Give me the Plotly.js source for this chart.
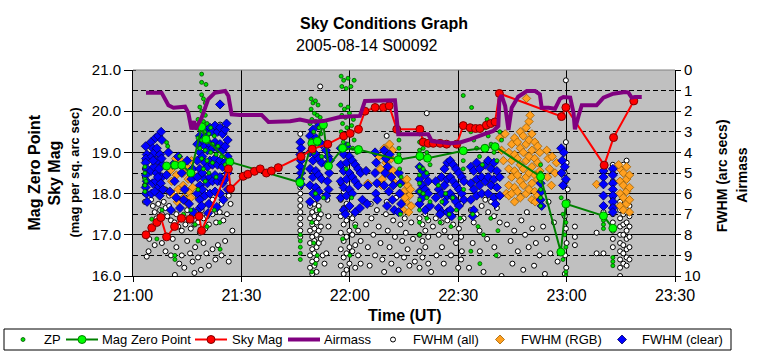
<!DOCTYPE html>
<html>
<head>
<meta charset="utf-8">
<script src="https://cdn.plot.ly/plotly-3.0.1.min.js"></script>
<style>html,body{margin:0;padding:0;background:#fff;}#chart{width:763px;height:358px;}</style>
</head>
<body>
<div id="chart"></div>
<script>
// ---- axis tick data ----
const timeTicks = [0, 30, 60, 90, 120, 150];           // minutes after 21:00 UT
const timeLabels = ['21:00', '21:30', '22:00', '22:30', '23:00', '23:30'];
const magTicks = [16, 17, 18, 19, 20, 21];
const magLabels = ['16.0', '17.0', '18.0', '19.0', '20.0', '21.0'];
const rightTicks = [0, 1, 2, 3, 4, 5, 6, 7, 8, 9, 10];
const seriesNames = ['ZP', 'Mag Zero Point', 'Sky Mag', 'Airmass', 'FWHM (all)', 'FWHM (RGB)', 'FWHM (clear)'];

// ---- series: [minutes after 21:00, value] ----
const skyMag = [[3.6,17.0],[5.2,17.17],[6.6,17.3],[7.7,17.42],[9.3,16.95],[11.5,17.2],[13.4,17.4],[15.8,17.38],[18.3,17.45],[19.0,17.1],
  [26.4,18.6],[27.0,18.12],[30.5,18.42],[31.8,18.47],[33.6,18.54],[35.2,18.6],[36.9,18.5],[38.3,18.55],[40.2,18.63],[46.5,18.9],
  [49.6,19.08],[53.9,19.2],[58.3,19.4],[60.1,19.46],[62.4,19.56],[64.2,20.0],[67.0,20.09],[69.3,20.09],[70.9,20.13],[73.0,19.56],
  [79.4,19.56],[80.3,19.25],[81.7,19.22],[83.1,19.22],[85.0,19.22],[86.8,19.2],[89.6,19.2],[91.4,19.65],[93.3,19.6],[94.8,19.58],
  [96.0,19.58],[97.8,19.66],[99.0,19.7],[100.2,19.74],[101.4,20.43],[118.6,19.87],[119.8,20.09],[130.4,18.69],[133.0,19.36],[138.6,20.25]];

const magZeroPoint = [[9.3,18.67],[11.6,18.69],[13.5,18.69],[16.0,18.5],[19.0,19.62],[20.2,19.32],[26.8,18.77],[46.2,18.27],
  [49.5,19.22],[51.0,19.27],[52.7,19.67],[54.1,18.67],[58.0,19.1],[62.4,19.07],[73.4,18.82],[79.4,18.91],[81.5,18.86],
  [91.4,19.04],[97.4,19.1],[100.2,19.14],[112.8,18.41],[118.4,16.58],[119.8,17.75],[130.2,17.46],[132.8,17.16]];

const airmass = [[3.6,1.10],[7.9,1.10],[9.8,1.71],[11.2,1.83],[14.4,1.78],[15.3,2.07],[16.2,2.88],[16.9,2.48],[17.3,2.88],[19.0,2.31],
  [20.8,1.42],[22.7,1.10],[25.5,1.02],[26.4,1.26],[27.3,2.15],[29.6,2.18],[35.6,2.18],[37.5,2.52],[43.5,2.49],[46.2,2.40],
  [49.0,2.51],[52.7,2.48],[57.3,2.28],[60.1,2.25],[62.8,2.23],[64.2,1.50],[72.5,1.47],[73.4,3.12],[81.7,3.12],[82.7,3.45],
  [87.7,3.56],[90.5,3.52],[93.3,3.37],[97.0,3.12],[99.7,2.96],[101.1,2.72],[101.4,1.42],[102.0,1.23],[103.0,1.75],[103.9,2.91],
  [104.8,1.83],[106.6,1.30],[109.0,1.02],[111.3,1.02],[112.6,1.18],[113.1,1.83],[115.0,1.83],[116.8,1.88],[118.2,1.39],[119.1,1.31],
  [121.0,1.34],[121.9,2.07],[122.3,2.88],[123.3,2.23],[124.2,1.71],[128.3,1.71],[130.2,1.34],[132.9,1.15],[136.2,1.07],[137.1,1.10],
  [138.0,1.34],[138.9,1.31],[140.8,1.31]];

const zpPoints = [[3.3,18.05],[3.3,18.2],[3.3,18.35],[3.3,18.5],[3.3,18.65],[3.6,18.3],
  [5.2,17.38],[6.6,16.9],[9.3,19.24],[9.6,19.15],[11.6,16.4],[11.6,16.5],[12.9,18.91],[16.0,17.6],[8.0,17.6],[14.0,17.5],[18.0,16.85],[20.5,17.2],[24.1,16.65],[17.2,17.25],
  [19.0,20.9],[19.0,20.7],[20.2,20.65],[19.0,20.4],[19.5,20.3],[20.0,20.2],[18.5,20.1],[19.0,20.0],[20.0,19.9],[18.0,19.8],[19.5,19.75],[20.5,19.7],[21.5,19.6],
  [18.5,19.55],[19.8,19.5],[21.0,19.45],[22.5,19.4],[18.0,19.35],[19.0,19.3],[20.5,19.25],[22.0,19.2],[23.5,19.15],[18.5,19.1],[20.0,19.05],[21.5,19.0],
  [23.0,18.95],[24.5,18.9],[19.0,18.85],[20.5,18.8],[22.0,18.75],[25.5,18.7],[19.5,18.6],[21.0,18.5],[23.0,18.4],[20.0,18.3],[18.0,18.1],[22.5,17.6],[24.0,17.3],
  [46.3,17.0],[46.3,16.85],[46.3,16.7],[46.3,16.55],[46.3,16.4],
  [49.3,20.3],[49.8,20.2],[50.5,20.25],[51.2,20.15],[49.3,20.05],[50.2,19.95],[51.0,19.9],[51.8,19.85],[49.5,19.8],[50.5,19.75],[49.0,19.7],[51.5,19.6],
  [50.0,19.5],[52.0,19.45],[49.3,19.3],[51.0,19.2],[50.0,19.0],[52.2,18.9],[50.5,18.0],[51.5,17.6],[49.5,17.3],[50.0,16.8],[51.0,16.5],[50.5,16.3],[49.5,16.1],[52.7,17.9],
  [57.6,20.85],[58.3,20.75],[59.5,20.8],[57.8,20.6],[59.0,20.55],[60.3,20.6],[61.2,20.75],[57.5,20.15],[58.5,20.05],[59.5,20.1],[57.8,19.9],[58.8,19.85],
  [59.9,19.95],[61.0,19.8],[58.0,19.7],[59.2,19.6],[60.5,19.65],[57.6,19.5],[58.7,19.4],[60.0,19.45],[61.2,19.3],[58.2,19.25],[59.5,19.2],[60.8,19.1],
  [62.0,19.0],[59.0,18.6],[60.5,17.9],[61.5,17.2],[60.0,16.5],[58.0,16.9],
  [73.6,19.5],[73.6,19.3],[73.6,19.1],[73.6,18.95],[74.0,18.8],[73.8,18.6],[74.2,18.4],[73.9,18.2],[74.0,17.5],
  [79.3,19.45],[79.3,19.25],[79.3,19.05],[79.3,18.85],[79.3,18.65],[79.3,18.45],[79.3,18.25],[79.3,18.05],[79.3,17.85],[79.3,17.6],[79.3,17.3],[79.3,17.0],
  [80.3,19.3],[80.3,19.1],[80.3,18.6],[80.3,18.0],[81.3,19.0],[81.3,18.5],[81.3,17.9],[81.3,17.4],[82.2,18.7],[82.2,17.8],
  [84.5,18.2],[85.5,17.8],[86.5,18.0],[87.5,17.5],[88.5,17.9],[89.5,17.6],[90.5,17.4],[91.5,18.1],[85.0,17.3],[88.0,17.2],[91.4,20.38],[93.7,20.09],
  [91.4,18.8],[91.4,18.6],[93.5,19.5],[94.3,19.3],[95.1,19.1],[95.9,18.9],[96.7,18.7],[97.5,19.6],[98.3,19.4],[99.1,19.2],[99.9,19.0],[100.7,18.8],
  [101.5,19.5],[98.0,19.8],[100.0,19.7],[94.0,17.5],[95.5,17.2],[97.0,17.0],[99.0,17.4],[101.0,17.1],[93.5,16.6],[96.0,16.3],[100.5,16.5],[102.0,19.3],
  [112.8,18.7],[112.8,18.5],[112.8,18.3],[112.8,18.1],[112.8,17.9],[112.8,17.7],
  [118.5,17.9],[119.0,17.5],[119.8,17.3],[119.5,17.0],[119.8,16.7],[119.0,16.4],[119.8,16.1],[119.8,16.0],
  [130.2,17.45],[130.2,17.35],[130.2,17.25],[130.2,17.15],[132.8,16.45],[132.8,16.35],[132.8,16.25]];

const fwhmAll = [[3.3,4.4],[3.3,4.8],[3.3,5.2],[3.3,5.6],[3.3,6.0],[3.3,6.4],[3.8,9.06],[4.3,8.8],
  [5.0,6.3],[5.5,6.6],[6.0,6.9],[6.5,7.2],[7.0,6.5],[7.5,6.8],[8.0,7.0],[8.5,6.4],[9.0,6.7],[9.5,7.1],[10.0,6.6],[10.5,7.3],[11.0,6.9],[11.5,7.4],
  [12.0,7.0],[12.5,7.6],[13.0,7.2],[13.5,7.8],[14.0,7.1],[14.5,7.5],[15.0,6.8],[15.5,7.3],[16.0,7.7],[16.5,7.0],[17.0,7.5],[17.5,6.9],[18.0,7.4],
  [18.5,7.9],[19.0,6.8],[19.5,7.2],[20.0,7.7],[20.5,7.1],[21.0,7.5],[22.0,7.0],[23.0,7.4],[24.0,6.9],[25.0,7.3],[26.0,7.0],
  [4.5,8.2],[6.0,8.5],[8.0,8.4],[9.0,8.8],[10.5,9.0],[11.0,8.2],[12.0,8.6],[12.8,9.4],[13.5,9.0],[14.2,9.6],[15.0,8.3],[15.8,8.9],[16.5,9.3],
  [17.2,8.6],[18.0,9.1],[18.8,9.7],[19.5,8.4],[20.3,8.9],[21.0,9.5],[22.0,8.7],[22.8,9.2],[23.5,8.5],[24.5,9.0],[25.5,8.3],[26.5,9.3],[11.6,9.95],[17.0,9.85],
  [9.0,5.8],[10.0,6.1],[12.0,5.9],[14.5,6.2],[16.0,5.8],[18.0,6.2],[20.0,5.9],[22.0,6.3],[24.5,6.5],[26.5,6.1],[24.1,2.65],[25.0,3.0],[27.0,6.5],[27.5,7.8],
  [46.3,3.1],[46.3,5.7],[46.3,6.0],[46.3,6.3],[46.3,6.6],[46.3,6.9],[46.3,7.2],[46.3,7.5],[46.3,7.8],[46.3,8.1],
  [49.0,6.6],[49.0,7.2],[49.0,7.8],[49.0,8.4],[49.0,9.0],[49.0,9.6],[49.6,6.9],[49.6,7.5],[49.6,8.1],[49.6,8.7],[49.6,9.3],[49.6,9.9],
  [50.2,6.5],[50.2,7.1],[50.2,7.7],[50.2,8.3],[50.2,8.9],[50.2,9.5],[50.8,6.8],[50.8,7.4],[50.8,8.0],[50.8,8.6],[50.8,9.2],[50.8,9.8],
  [51.4,6.6],[51.4,7.2],[51.4,7.8],[51.4,8.4],[52.0,7.0],[52.0,7.6],[52.0,8.2],[51.8,0.8],[52.5,9.0],[53.0,9.4],[53.5,8.9],[54.1,7.1],[54.1,7.6],[53.8,6.3],
  [57.5,5.5],[57.5,6.3],[57.5,7.1],[57.5,7.9],[57.5,8.7],[57.5,9.5],[58.3,5.9],[58.3,6.7],[58.3,7.5],[58.3,8.3],[58.3,9.1],[58.3,9.9],
  [59.1,6.5],[59.1,7.3],[59.1,8.1],[59.1,8.9],[59.1,9.7],[59.9,7.0],[59.9,7.8],[59.9,8.6],[59.9,9.4],[60.7,7.2],[60.7,8.0],[60.7,8.8],
  [61.5,7.5],[61.5,8.5],[61.5,9.6],[62.3,7.8],[62.3,9.0],[63.0,8.3],[63.0,9.4],
  [64.5,7.5],[65.0,8.6],[65.5,9.5],[66.0,7.2],[66.5,8.0],[67.0,9.0],[67.5,6.8],[68.0,7.6],[68.5,8.4],[69.0,9.2],[69.5,9.8],[70.0,7.0],
  [70.5,7.8],[71.0,8.6],[71.5,9.4],[72.0,7.3],[72.5,8.1],[73.0,9.0],[73.5,9.7],[74.0,7.5],[74.5,8.3],[75.0,9.1],[75.5,7.9],[76.0,8.7],
  [76.5,9.5],[77.0,7.4],[77.5,8.2],[78.0,9.3],[65.8,6.5],[70.2,6.4],[72.8,6.2],[75.2,7.2],[70.2,3.2],[81.3,2.1],
  [79.3,7.2],[79.3,8.0],[79.3,8.8],[79.3,9.6],[80.1,7.5],[80.1,8.3],[80.1,9.1],[80.9,7.0],[80.9,7.8],[80.9,8.6],[81.7,7.3],[81.7,8.1],[81.7,9.4],
  [83.0,7.6],[83.8,7.2],[84.6,8.0],[85.4,7.4],[86.2,7.8],[87.0,7.3],[87.8,8.1],[88.6,7.5],[89.4,8.4],[90.2,7.7],[91.0,8.8],[84.0,9.0],
  [86.0,9.4],[88.0,9.0],[90.0,9.6],[82.5,9.8],[85.5,8.6],[91.5,7.2],
  [90.8,6.5],[90.8,7.3],[90.8,8.1],[90.8,9.2],[93.5,6.8],[94.3,7.4],[95.1,7.0],[95.9,7.8],[96.5,6.6],[97.5,6.3],[98.3,6.9],[99.1,6.4],
  [99.9,7.1],[100.7,6.7],[101.5,7.4],[94.0,8.4],[96.0,8.8],[98.0,8.2],[100.0,8.6],[93.0,9.6],[97.0,9.8],[101.0,9.0],
  [103.5,7.5],[104.5,8.3],[105.5,7.8],[106.5,8.8],[107.5,7.3],[108.5,8.0],[109.5,8.6],[110.5,7.7],[111.5,8.4],[112.5,9.0],[113.5,7.6],
  [114.5,8.2],[115.5,8.9],[116.5,7.4],[117.5,9.3],[105.0,9.4],[108.0,9.7],[111.0,9.5],[114.0,9.9],[102.0,10.0],[109.0,6.9],[115.0,6.4],
  [119.8,0.5],[119.8,3.5],[119.0,4.0],[120.0,4.5],[119.5,5.0],[119.8,5.4],[120.3,5.8],[119.5,7.1],[119.8,7.7],[120.0,8.4],[119.6,9.0],
  [119.9,9.6],[119.5,9.9],[120.3,6.4],
  [122.3,7.6],[122.3,8.1],[122.3,8.5],[128.3,7.9],[128.3,8.9],[130.2,6.9],[130.2,8.9],
  [132.8,4.6],[132.8,5.0],[132.8,5.4],[132.8,5.8],[132.8,6.2],[132.8,6.6],[132.8,7.0],[132.8,7.4],[132.8,7.8],[132.8,8.2],[132.8,8.6],
  [134.8,6.4],[134.8,6.8],[134.8,7.2],[134.8,7.6],[134.8,8.0],[134.8,8.4],[134.8,8.8],[134.8,9.2],[134.8,9.6],[134.8,10.0],
  [135.7,4.6],[135.7,7.0],[135.7,7.5],[135.7,8.0],[135.7,8.5],[135.7,8.9],[135.7,9.4],
  [136.6,4.4],[136.6,6.9],[136.6,7.4],[136.6,7.8],[136.6,8.2],[136.6,8.7],[136.6,9.1],[136.6,9.5],
  [137.4,6.6],[137.4,7.1],[137.4,7.6],[137.4,8.1],[137.4,8.6],[137.4,9.2]];

const fwhmRGB = [[10.5,4.85],[10.7,5.4],[10.6,6.0],[11.3,4.6],[12.0,5.1],[12.5,5.8],[12.3,6.4],[13.2,4.4],[13.9,5.0],[13.9,5.6],[14.0,6.2],
  [14.8,4.7],[15.3,5.3],[15.5,5.9],[15.2,6.5],[16.2,4.4],[16.7,5.1],[16.5,5.7],[11.8,4.3],[16.0,6.2],
  [64.5,4.9],[65.0,5.5],
  [68.0,4.2],[68.5,4.8],[69.0,5.3],[69.5,3.8],[70.0,4.5],[70.5,5.0],[71.0,3.6],[71.5,4.3],[72.0,4.9],[72.5,5.5],[68.8,5.6],[71.8,3.9],
  [74.5,5.4],[75.0,5.9],[75.5,6.4],[76.0,5.6],[76.5,6.1],[77.0,6.6],[74.8,6.8],[75.8,5.3],[76.3,6.9],[75.3,6.2],[76.8,5.8],
  [101.5,3.3],[102.0,3.9],[102.5,4.4],[103.0,3.1],[103.3,6.0],
  [104.0,4.0],[104.0,4.8],[104.0,5.6],[104.0,6.1],[104.8,3.6],[104.8,4.4],[104.8,5.2],[104.8,6.0],
  [105.6,3.3],[105.6,4.1],[105.6,4.9],[105.6,5.7],[105.6,6.4],[106.4,3.5],[106.4,4.3],[106.4,5.1],[106.4,5.9],
  [107.2,3.0],[107.2,3.8],[107.2,4.6],[107.2,5.4],[107.2,6.2],[108.0,3.2],[108.0,4.0],[108.0,4.8],[108.0,5.6],
  [108.8,2.8],[108.8,3.6],[108.8,4.4],[108.8,5.2],[108.8,6.0],[108.9,1.38],
  [109.6,2.5],[109.6,3.4],[109.6,4.2],[109.6,5.0],[109.6,5.8],[109.9,2.2],
  [110.4,3.1],[110.4,3.9],[110.4,4.7],[110.4,5.5],[110.4,6.3],[111.2,3.5],[111.2,4.3],[111.2,5.1],[111.2,5.9],[111.3,6.4],
  [112.0,3.7],[112.0,4.5],[112.0,5.3],[112.0,6.1],[112.6,4.0],[112.6,4.9],
  [114.5,3.9],[114.9,4.3],[115.3,4.8],[114.7,5.2],[116.0,4.2],[116.8,5.0],[117.2,4.5],[115.8,5.6],
  [128.3,5.55],
  [134.8,4.8],[134.8,5.4],[134.8,6.0],[134.8,6.6],[135.7,5.0],[135.7,5.6],[135.7,6.2],[135.7,6.8],[136.6,4.7],[136.6,5.3],[136.6,5.9],
  [136.6,6.5],[137.4,5.1],[137.4,5.7],[137.4,6.3],[137.4,6.9],[134.4,4.6]];

const fwhmClear = [[3.5,3.7],[3.8,4.1],[3.6,4.3],[3.5,4.5],[3.9,4.8],[3.6,5.1],[3.8,5.4],[3.5,5.7],[3.7,6.0],[3.9,6.4],
  [5.0,3.5],[5.5,3.8],[6.2,3.3],[7.0,3.2],[7.8,3.0],[8.0,3.4],[5.2,4.2],[6.0,4.0],[6.8,4.4],[7.5,4.1],[8.2,4.6],[5.0,4.9],[5.8,4.7],
  [6.5,5.0],[7.2,4.8],[8.0,5.2],[5.4,5.5],[6.3,5.4],[7.0,5.7],[7.7,5.5],[5.1,6.0],[6.0,5.9],[7.4,6.1],[8.3,5.8],[6.6,3.8],[5.6,4.4],[7.9,4.3],[6.9,5.2],
  [9.3,5.1],[10.2,5.9],[11.0,4.6],[11.5,5.4],[12.0,6.2],[13.0,6.7],[13.5,5.0],[14.3,5.8],[15.0,4.4],[15.5,6.5],[16.2,5.3],[12.5,4.2],
  [10.5,6.8],[14.0,6.3],[16.5,4.8],[9.8,4.0],[16.7,6.9],
  [17.8,3.6],[17.8,4.4],[17.8,5.2],[17.8,6.0],[18.5,3.2],[18.5,4.0],[18.5,4.8],[18.5,5.6],[18.5,6.3],[18.5,6.7],[19.2,3.4],[19.2,4.2],
  [19.2,5.0],[19.2,5.8],[19.0,6.6],[19.9,2.9],[19.9,3.7],[19.9,4.5],[19.9,5.3],[19.9,6.1],[20.6,3.1],[20.6,3.9],[20.6,4.7],[20.6,5.5],
  [20.8,6.95],[21.3,2.8],[21.3,3.6],[21.3,4.4],[21.3,5.2],[21.3,6.0],[21.0,6.5],[22.0,3.0],[22.0,3.8],[22.0,4.6],[22.0,5.4],[22.7,2.7],
  [22.7,3.5],[22.7,4.3],[22.7,5.1],[22.7,5.9],[23.4,3.0],[23.4,3.8],[23.4,4.6],[23.4,5.4],[23.2,6.65],[24.1,2.8],[24.1,3.6],[24.1,4.4],
  [24.1,5.2],[24.1,6.0],[24.1,1.67],[24.8,3.1],[24.8,3.9],[24.8,4.7],[24.8,5.5],[25.0,6.3],[25.5,2.9],[25.5,3.7],[25.5,4.5],[25.5,5.3],
  [25.9,2.6],[26.2,3.4],[26.2,4.2],[26.2,5.0],[26.2,5.8],
  [46.3,3.5],[46.5,3.8],[46.3,4.1],[46.5,4.4],[46.3,4.7],[46.5,5.0],[46.3,5.3],[46.5,5.55],
  [49.0,3.2],[49.0,4.0],[49.0,4.8],[49.0,5.6],[49.0,6.4],[49.8,2.9],[49.8,3.6],[49.8,4.4],[49.8,5.2],[49.8,6.0],[50.6,3.3],[50.6,4.1],
  [50.6,4.9],[50.6,5.7],[51.4,2.7],[51.4,3.5],[51.4,4.3],[51.4,5.1],[51.4,5.9],[52.2,3.6],[52.2,4.5],[52.2,5.3],[51.0,6.2],
  [53.4,3.9],[54.0,4.2],[53.6,4.6],[54.3,5.0],[53.8,5.4],[54.1,5.8],[53.5,6.1],[54.5,4.4],
  [57.5,3.8],[57.5,4.6],[57.5,5.4],[57.5,6.2],[58.3,4.1],[58.3,4.9],[58.3,5.7],[58.3,6.8],[59.1,3.7],[59.1,4.5],[59.1,5.3],[59.1,6.1],
  [59.9,4.2],[59.9,5.0],[59.9,5.8],[59.9,6.6],[60.7,4.4],[60.7,5.2],[60.7,6.0],[61.5,4.6],[61.5,5.4],[61.5,6.9],[62.3,4.8],[62.3,5.6],
  [63.0,5.0],[63.5,6.3],[62.8,6.7],[58.8,7.0],
  [64.5,4.9],[65.0,5.6],[64.8,6.5],
  [67.0,4.0],[67.3,4.5],[67.0,5.0],[67.5,5.5],[67.2,6.0],[67.6,6.3],
  [69.5,3.9],[70.0,4.3],[70.5,4.7],[71.0,4.1],[71.5,5.2],[72.0,5.6],[69.8,5.0],[70.8,5.9],[71.8,6.3],[72.3,6.8],[70.3,6.6],[69.5,5.6],
  [73.6,5.0],[74.0,5.5],[73.8,6.0],[74.2,6.5],[73.5,6.9],
  [79.3,4.7],[79.3,5.3],[79.3,5.9],[79.3,6.5],[80.1,4.9],[80.1,5.6],[80.1,6.2],[80.9,5.1],[80.9,5.8],[80.9,6.8],[81.7,5.4],[81.7,6.0],[82.2,6.6],
  [83.8,5.4],[83.8,6.2],[84.6,5.8],[84.6,6.7],[85.4,5.2],[85.4,6.0],[85.4,6.9],[86.2,4.8],[86.2,5.6],[86.2,6.4],[87.0,4.5],[87.0,5.3],
  [87.0,6.1],[87.0,6.9],[87.8,4.4],[87.8,5.2],[87.8,6.0],[87.8,6.8],[88.6,4.6],[88.6,5.4],[88.6,6.2],[89.4,4.8],[89.4,5.6],[89.4,6.4],
  [90.2,5.0],[90.2,5.8],[90.2,6.6],[91.0,5.2],[91.0,6.0],[91.6,5.4],[91.6,6.3],[88.2,7.1],[85.0,7.0],
  [93.5,4.7],[93.5,5.5],[93.5,6.3],[94.3,4.9],[94.3,5.8],[94.3,6.8],[95.1,4.5],[95.1,5.3],[95.1,6.1],[95.9,4.8],[95.9,5.6],[96.5,5.2],
  [96.5,6.0],[94.0,7.1],
  [97.5,4.6],[97.5,5.4],[98.3,4.4],[98.3,5.2],[98.3,6.0],[99.1,4.8],[99.1,5.6],[99.9,4.5],[99.9,5.3],[99.9,6.2],[100.7,4.9],[100.7,5.7],
  [101.5,5.2],[101.5,6.1],[100.3,6.5],
  [112.8,5.5],[113.0,5.9],[112.8,6.3],[113.1,6.6],
  [118.5,3.8],[119.2,4.0],[118.8,4.4],[119.5,4.7],[118.6,5.0],[119.8,5.3],[119.0,5.6],
  [130.2,4.9],[130.2,5.2],[130.2,5.55],[130.2,6.1],[130.2,6.6],
  [132.8,4.8],[132.8,5.1],[132.8,5.5],[132.8,5.8],[132.8,6.1],[132.8,6.4],[132.8,6.7],[132.8,6.9]];

const xs = a => a.map(p => p[0]);
const ys = a => a.map(p => p[1]);
const FONT = 'Liberation Sans, Arial, sans-serif';

// styles
const S = {
  zp:   {symbol: 'circle', size: 4, color: '#00e000', line: {color: '#005000', width: 0.8}},
  mzpM: {symbol: 'circle', size: 8, color: '#00ff00', line: {color: '#008000', width: 1}},
  skyM: {symbol: 'circle', size: 8, color: '#ff0000', line: {color: '#800000', width: 1}},
  all:  {symbol: 'circle', size: 5, color: '#ffffff', line: {color: '#000000', width: 1}},
  rgb:  {symbol: 'diamond', size: 6.5, color: '#ffa020', line: {color: '#a06000', width: 0.8}},
  clr:  {symbol: 'diamond', size: 7, color: '#0000ff', line: {color: '#000060', width: 0.8}}
};

const traces = [
  {name: seriesNames[0], x: xs(zpPoints), y: ys(zpPoints), yaxis: 'y2', type: 'scatter', mode: 'markers', marker: S.zp},
  {name: seriesNames[1], x: xs(magZeroPoint), y: ys(magZeroPoint), yaxis: 'y2', type: 'scatter', mode: 'lines+markers',
   line: {color: '#008000', width: 2}, marker: S.mzpM},
  {name: seriesNames[2], x: xs(skyMag), y: ys(skyMag), yaxis: 'y2', type: 'scatter', mode: 'lines+markers',
   line: {color: '#ff0000', width: 2}, marker: S.skyM},
  {name: seriesNames[3], x: xs(airmass), y: ys(airmass), yaxis: 'y3', type: 'scatter', mode: 'lines',
   line: {color: '#800080', width: 4}},
  {name: seriesNames[4], x: xs(fwhmAll), y: ys(fwhmAll), yaxis: 'y', type: 'scatter', mode: 'markers', marker: S.all},
  {name: seriesNames[5], x: xs(fwhmRGB), y: ys(fwhmRGB), yaxis: 'y', type: 'scatter', mode: 'markers', marker: S.rgb},
  {name: seriesNames[6], x: xs(fwhmClear), y: ys(fwhmClear), yaxis: 'y', type: 'scatter', mode: 'markers', marker: S.clr}
];

const ann = (text, x, y, size, bold, angle, xanchor) => ({
  text: bold ? '<b>' + text + '</b>' : text, xref: 'paper', yref: 'paper', x: x, y: y,
  xanchor: xanchor || 'center', yanchor: 'middle', showarrow: false, textangle: angle || 0,
  font: {family: FONT, size: size, color: '#000'}
});

// ---- legend box (drawn as layout shapes + annotations, single row like the original) ----
const PW = 542, PH = 206, ML = 133, PB = 276;
const px = v => (v - ML) / PW;          // page pixel -> paper x
const py = v => (PB - v) / PH;          // page pixel -> paper y
const LY = py(339.5);
const dot = (cx, r, fill, lc, lw) => ({type: 'circle', xref: 'paper', yref: 'paper', xsizemode: 'pixel', ysizemode: 'pixel',
  xanchor: px(cx), yanchor: LY, x0: -r, x1: r, y0: -r, y1: r, fillcolor: fill, line: {color: lc, width: lw}});
const dia = (cx, r, fill, lc) => ({type: 'path', xref: 'paper', yref: 'paper', xsizemode: 'pixel', ysizemode: 'pixel',
  xanchor: px(cx), yanchor: LY, path: `M0,${r} L${r},0 L0,${-r} L${-r},0 Z`, fillcolor: fill, line: {color: lc, width: 0.8}});
const seg = (a, b, color, w) => ({type: 'line', xref: 'paper', yref: 'paper', x0: px(a), x1: px(b), y0: LY, y1: LY, line: {color: color, width: w}});

const legendShapes = [
  {type: 'rect', xref: 'paper', yref: 'paper', x0: px(4), x1: px(731), y0: py(350), y1: py(329), fillcolor: '#fff', line: {color: '#000', width: 1}},
  dot(23, 2, S.zp.color, S.zp.line.color, 0.8),
  seg(66, 98, '#008000', 2), dot(82, 4, S.mzpM.color, S.mzpM.line.color, 1),
  seg(195, 227, '#ff0000', 2), dot(211, 4, S.skyM.color, S.skyM.line.color, 1),
  seg(288, 320, '#800080', 4),
  dot(393, 2.5, '#fff', '#000', 1),
  dia(500, 4.5, S.rgb.color, S.rgb.line.color),
  dia(622, 4.5, S.clr.color, S.clr.line.color)
];
const legendTextX = [42, 100, 230, 322, 411, 519, 640];
const legendAnn = seriesNames.map((n, i) => ann(n, px(legendTextX[i]), LY, 13, false, 0, 'left'));

const layout = {
  width: 763, height: 358,
  margin: {l: 133, r: 88, t: 70, b: 82},
  paper_bgcolor: '#ffffff', plot_bgcolor: '#c0c0c0',
  font: {family: FONT, color: '#000'},
  showlegend: false,
  xaxis: {range: [0, 150], tickvals: timeTicks, ticktext: timeLabels, showgrid: true, gridcolor: '#000', gridwidth: 1,
          ticks: 'outside', ticklen: 5, tickcolor: '#000', showline: true, linecolor: '#000', zeroline: false,
          tickfont: {family: FONT, size: 16}, fixedrange: true},
  yaxis: {range: [10, 0], side: 'right', tickvals: rightTicks, showgrid: false, zeroline: false,
          ticks: 'outside', ticklen: 5, tickcolor: '#000', showline: true, linecolor: '#000',
          tickfont: {family: FONT, size: 15}, fixedrange: true},
  yaxis2: {range: [16, 21], overlaying: 'y', side: 'left', tickvals: magTicks, ticktext: magLabels,
           showgrid: true, gridcolor: '#000', gridwidth: 1, zeroline: false,
           ticks: 'outside', ticklen: 8, tickcolor: '#000', showline: true, linecolor: '#000',
           minor: {dtick: 0.5, tick0: 16, showgrid: true, gridcolor: '#000', griddash: '5px,3px', ticks: 'inside', ticklen: 3, tickcolor: '#000'},
           tickfont: {family: FONT, size: 15}, fixedrange: true},
  yaxis3: {range: [10, 0], overlaying: 'y', visible: false, fixedrange: true},
  shapes: [{type: 'line', xref: 'paper', yref: 'paper', x0: 0, x1: 1, y0: 1, y1: 1, line: {color: '#808080', width: 1}}].concat(legendShapes),
  annotations: [
    ann('Sky Conditions Graph', 0.463, 1.228, 16, true),
    ann('2005-08-14 S00092', 0.432, 1.121, 16, false),
    ann('Time (UT)', 0.5, -0.194, 16, true),
    ann('Mag Zero Point', -0.181, 0.502, 16, true, -90),
    ann('Sky Mag', -0.144, 0.502, 16, true, -90),
    ann('(mag per sq. arc sec)', -0.107, 0.502, 13, true, -90),
    ann('FWHM (arc secs)', 1.087, 0.485, 14, true, -90),
    ann('Airmass', 1.123, 0.49, 14, true, -90)
  ].concat(legendAnn)
};

Plotly.newPlot('chart', traces, layout, {displayModeBar: false, staticPlot: true});
</script>
</body>
</html>
